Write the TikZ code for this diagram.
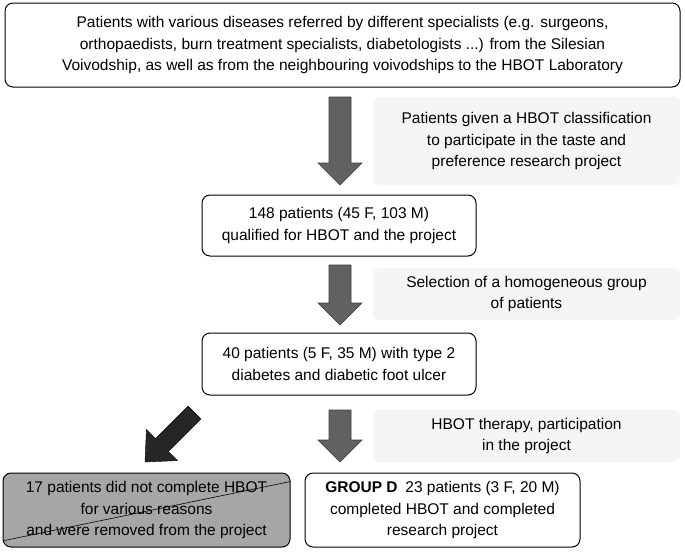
\documentclass[tikz,border=0pt]{standalone}
\usepackage{fontspec}
\setmainfont{Liberation Sans}
\begin{document}
\begin{tikzpicture}[x=1pt,y=-1pt,font=\fontsize{15.5}{21.5}\selectfont,
 box/.style={draw,rounded corners=8pt,line width=1pt,align=center,inner sep=0pt},
 lbl/.style={fill=black!4,rounded corners=6pt,align=center,inner sep=0pt},
 arr/.style={fill=black!62,draw=black!75,line width=0.6pt}]
\useasboundingbox (0,0) rectangle (685,552);
\node[box,minimum width=675pt,minimum height=84pt] (top) at (342.5,45) {Patients with various diseases referred by different specialists (e.g. surgeons,\\orthopaedists, burn treatment specialists, diabetologists ...) from the Silesian\\Voivodship, as well as from the neighbouring voivodships to the HBOT Laboratory};
\node[lbl,minimum width=307pt,minimum height=88pt] (l1) at (526.5,141) {Patients given a HBOT classification\\to participate in the taste and\\preference research project};
\node[box,minimum width=274pt,minimum height=61pt] (b2) at (339,225.5) {148 patients (45 F, 103 M)\\qualified for HBOT and the project};
\node[lbl,minimum width=307pt,minimum height=52pt] (l2) at (526.5,294) {Selection of a homogeneous group\\of patients};
\node[box,minimum width=274pt,minimum height=62pt] (b3) at (339,364) {40 patients (5 F, 35 M) with type 2\\diabetes and diabetic foot ulcer};
\node[lbl,minimum width=307pt,minimum height=52pt] (l3) at (526.5,436) {HBOT therapy, participation\\in the project};
\node[box,fill=black!35,minimum width=287pt,minimum height=74pt] (bx) at (146.5,510) {17 patients did not complete HBOT\\for various reasons\\and were removed from the project};
\node[box,minimum width=275pt,minimum height=74pt] (bd) at (442.5,510) {\textbf{GROUP D}\enspace 23 patients (3 F, 20 M)\\completed HBOT and completed\\research project};
\draw[line width=0.6pt] ([shift={(2,-7)}]bx.south west) -- ([shift={(0,9)}]bx.north east);
\foreach \yt/\yb in {97/185,265/325,410/462}{
 \filldraw[arr] (329,\yt) -- (351,\yt) -- (351,\yb-22) -- (362,\yb-22) -- (340,\yb) -- (318,\yb-22) -- (329,\yb-22) -- cycle;}
\begin{scope}[shift={(145,462)},rotate=-45]
\filldraw[fill=black!85,draw=black] (-9,-70) -- (9,-70) -- (9,-24) -- (22,-24) -- (0,0) -- (-22,-24) -- (-9,-24) -- cycle;
\end{scope}
\end{tikzpicture}
\end{document}
